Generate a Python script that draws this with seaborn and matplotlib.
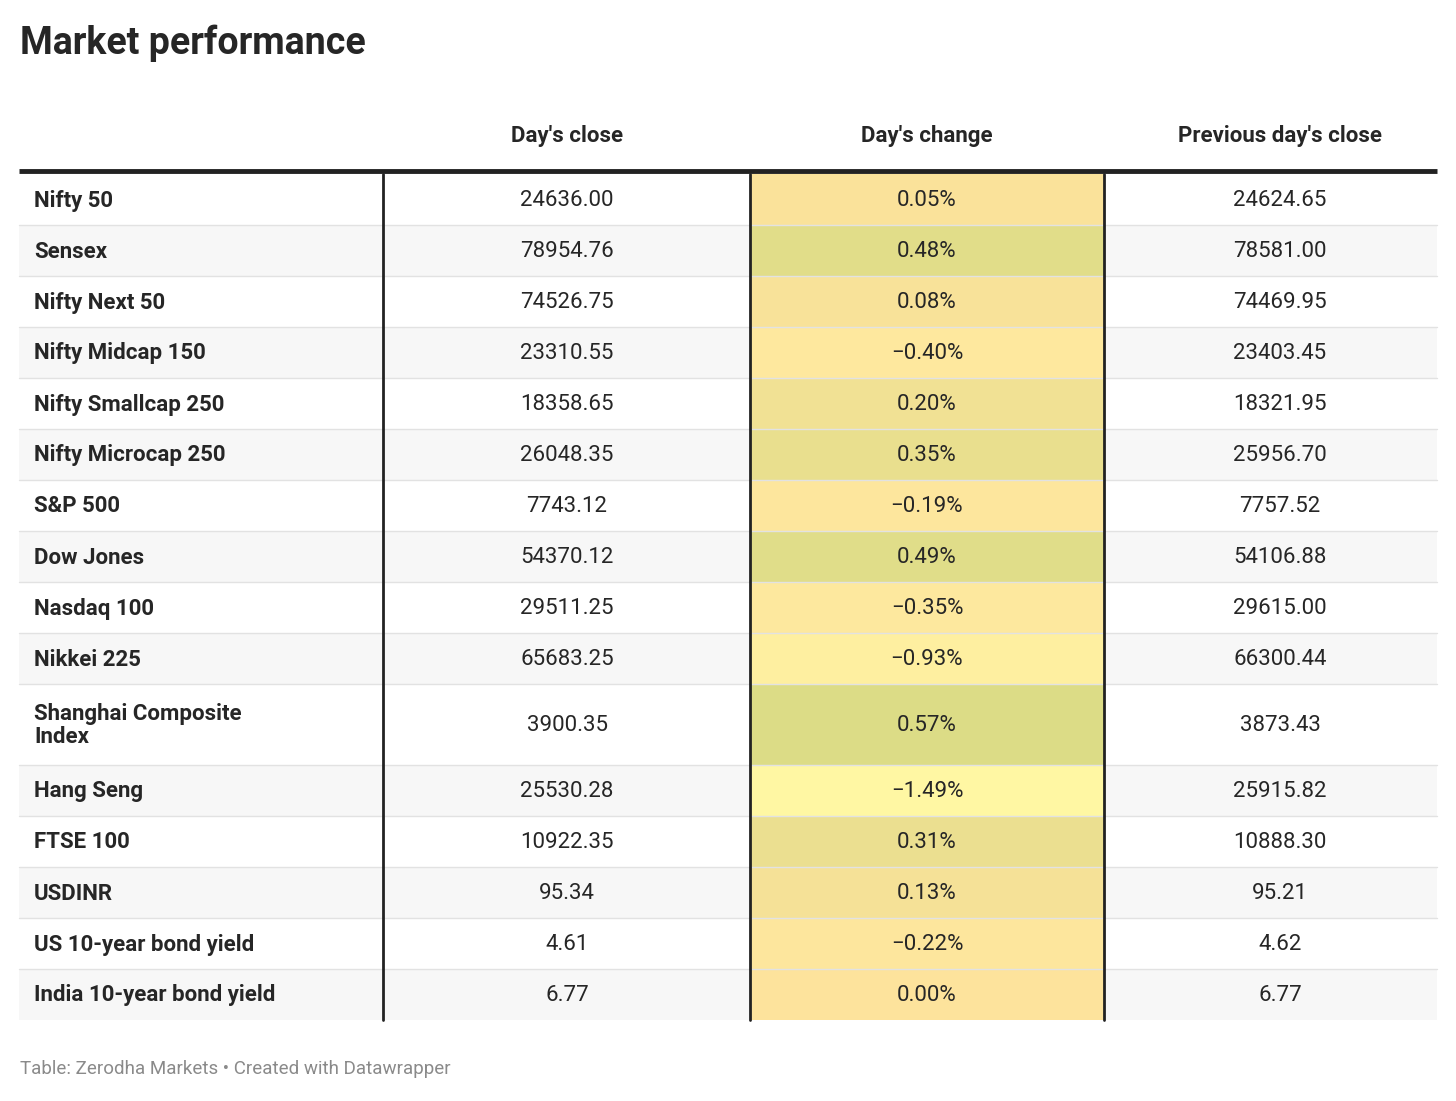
import matplotlib
matplotlib.use("Agg")
import matplotlib.pyplot as plt
import seaborn as sns
from matplotlib.colors import TwoSlopeNorm

indices = ["Nifty 50", "Sensex", "Nifty Next 50", "Nifty Midcap 150", "Nifty Smallcap 250",
           "Nifty Microcap 250", "S&P 500", "Dow Jones", "Nasdaq 100", "Nikkei 225",
           "Shanghai Composite\nIndex", "Hang Seng", "FTSE 100", "USDINR",
           "US 10-year bond yield", "India 10-year bond yield"]
day_close = ["24636.00", "78954.76", "74526.75", "23310.55", "18358.65", "26048.35", "7743.12",
             "54370.12", "29511.25", "65683.25", "3900.35", "25530.28", "10922.35", "95.34",
             "4.61", "6.77"]
day_change = [0.05, 0.48, 0.08, -0.40, 0.20, 0.35, -0.19, 0.49, -0.35, -0.93, 0.57, -1.49,
              0.31, 0.13, -0.22, 0.00]
prev_close = ["24624.65", "78581.00", "74469.95", "23403.45", "18321.95", "25956.70", "7757.52",
              "54106.88", "29615.00", "66300.44", "3873.43", "25915.82", "10888.30", "95.21",
              "4.62", "6.77"]
headers = ["Day's close", "Day's change", "Previous day's close"]

sns.set_theme(style="white")
plt.rcParams['font.family'] = ['Roboto', 'DejaVu Sans']

cmap = sns.blend_palette(["#fff7a3", "#fde39c", "#dcdc86"], as_cmap=True)
norm = TwoSlopeNorm(vmin=-1.49, vcenter=0.0, vmax=0.57)

fig = plt.figure(figsize=(14.56, 11.01), dpi=100)
ax = fig.add_axes([0, 0, 1, 1])
ax.set_xlim(0, 1456)
ax.set_ylim(1101, 0)
ax.axis("off")

ax.text(20, 43, "Market performance", fontsize=27, fontweight="bold", va="center", ha="left")
centers = [567, 927, 1280]
for c, h in zip(centers, headers):
    ax.text(c, 136, h, fontsize=16, fontweight="bold", ha="center", va="center")
ax.plot([19, 1437], [171, 171], color="#222222", lw=3.5, solid_capstyle="butt")

top = 174
for i, name in enumerate(indices):
    h = 81 if "\n" in name else 51
    bot = top + h
    bg = "#f7f7f7" if i % 2 == 1 else "white"
    ax.fill_between([19, 1437], top, bot, color=bg, lw=0)
    ax.fill_between([750, 1104], top, bot, color=cmap(norm(day_change[i])), lw=0)
    if i < len(indices) - 1:
        ax.plot([19, 1437], [bot, bot], color="#e2e2e2", lw=1)
    mid = (top + bot) / 2
    ax.text(34, mid + 1, name, fontsize=16, fontweight="bold", ha="left", va="center", linespacing=1.1)
    ax.text(centers[0], mid + 1, day_close[i], fontsize=16, ha="center", va="center")
    s = f"{day_change[i]:.2f}%".replace("-", "\u2212")
    ax.text(centers[1], mid + 1, s, fontsize=16, ha="center", va="center")
    ax.text(centers[2], mid + 1, prev_close[i], fontsize=16, ha="center", va="center")
    top = bot

for x in [383, 750, 1104]:
    ax.plot([x, x], [174, top], color="#222222", lw=2)

ax.text(20, 1069, "Table: Zerodha Markets \u2022 Created with Datawrapper", fontsize=13.5,
        color="#8a8a8a", ha="left", va="center")

fig.savefig("out.png", dpi=100, facecolor="white")
